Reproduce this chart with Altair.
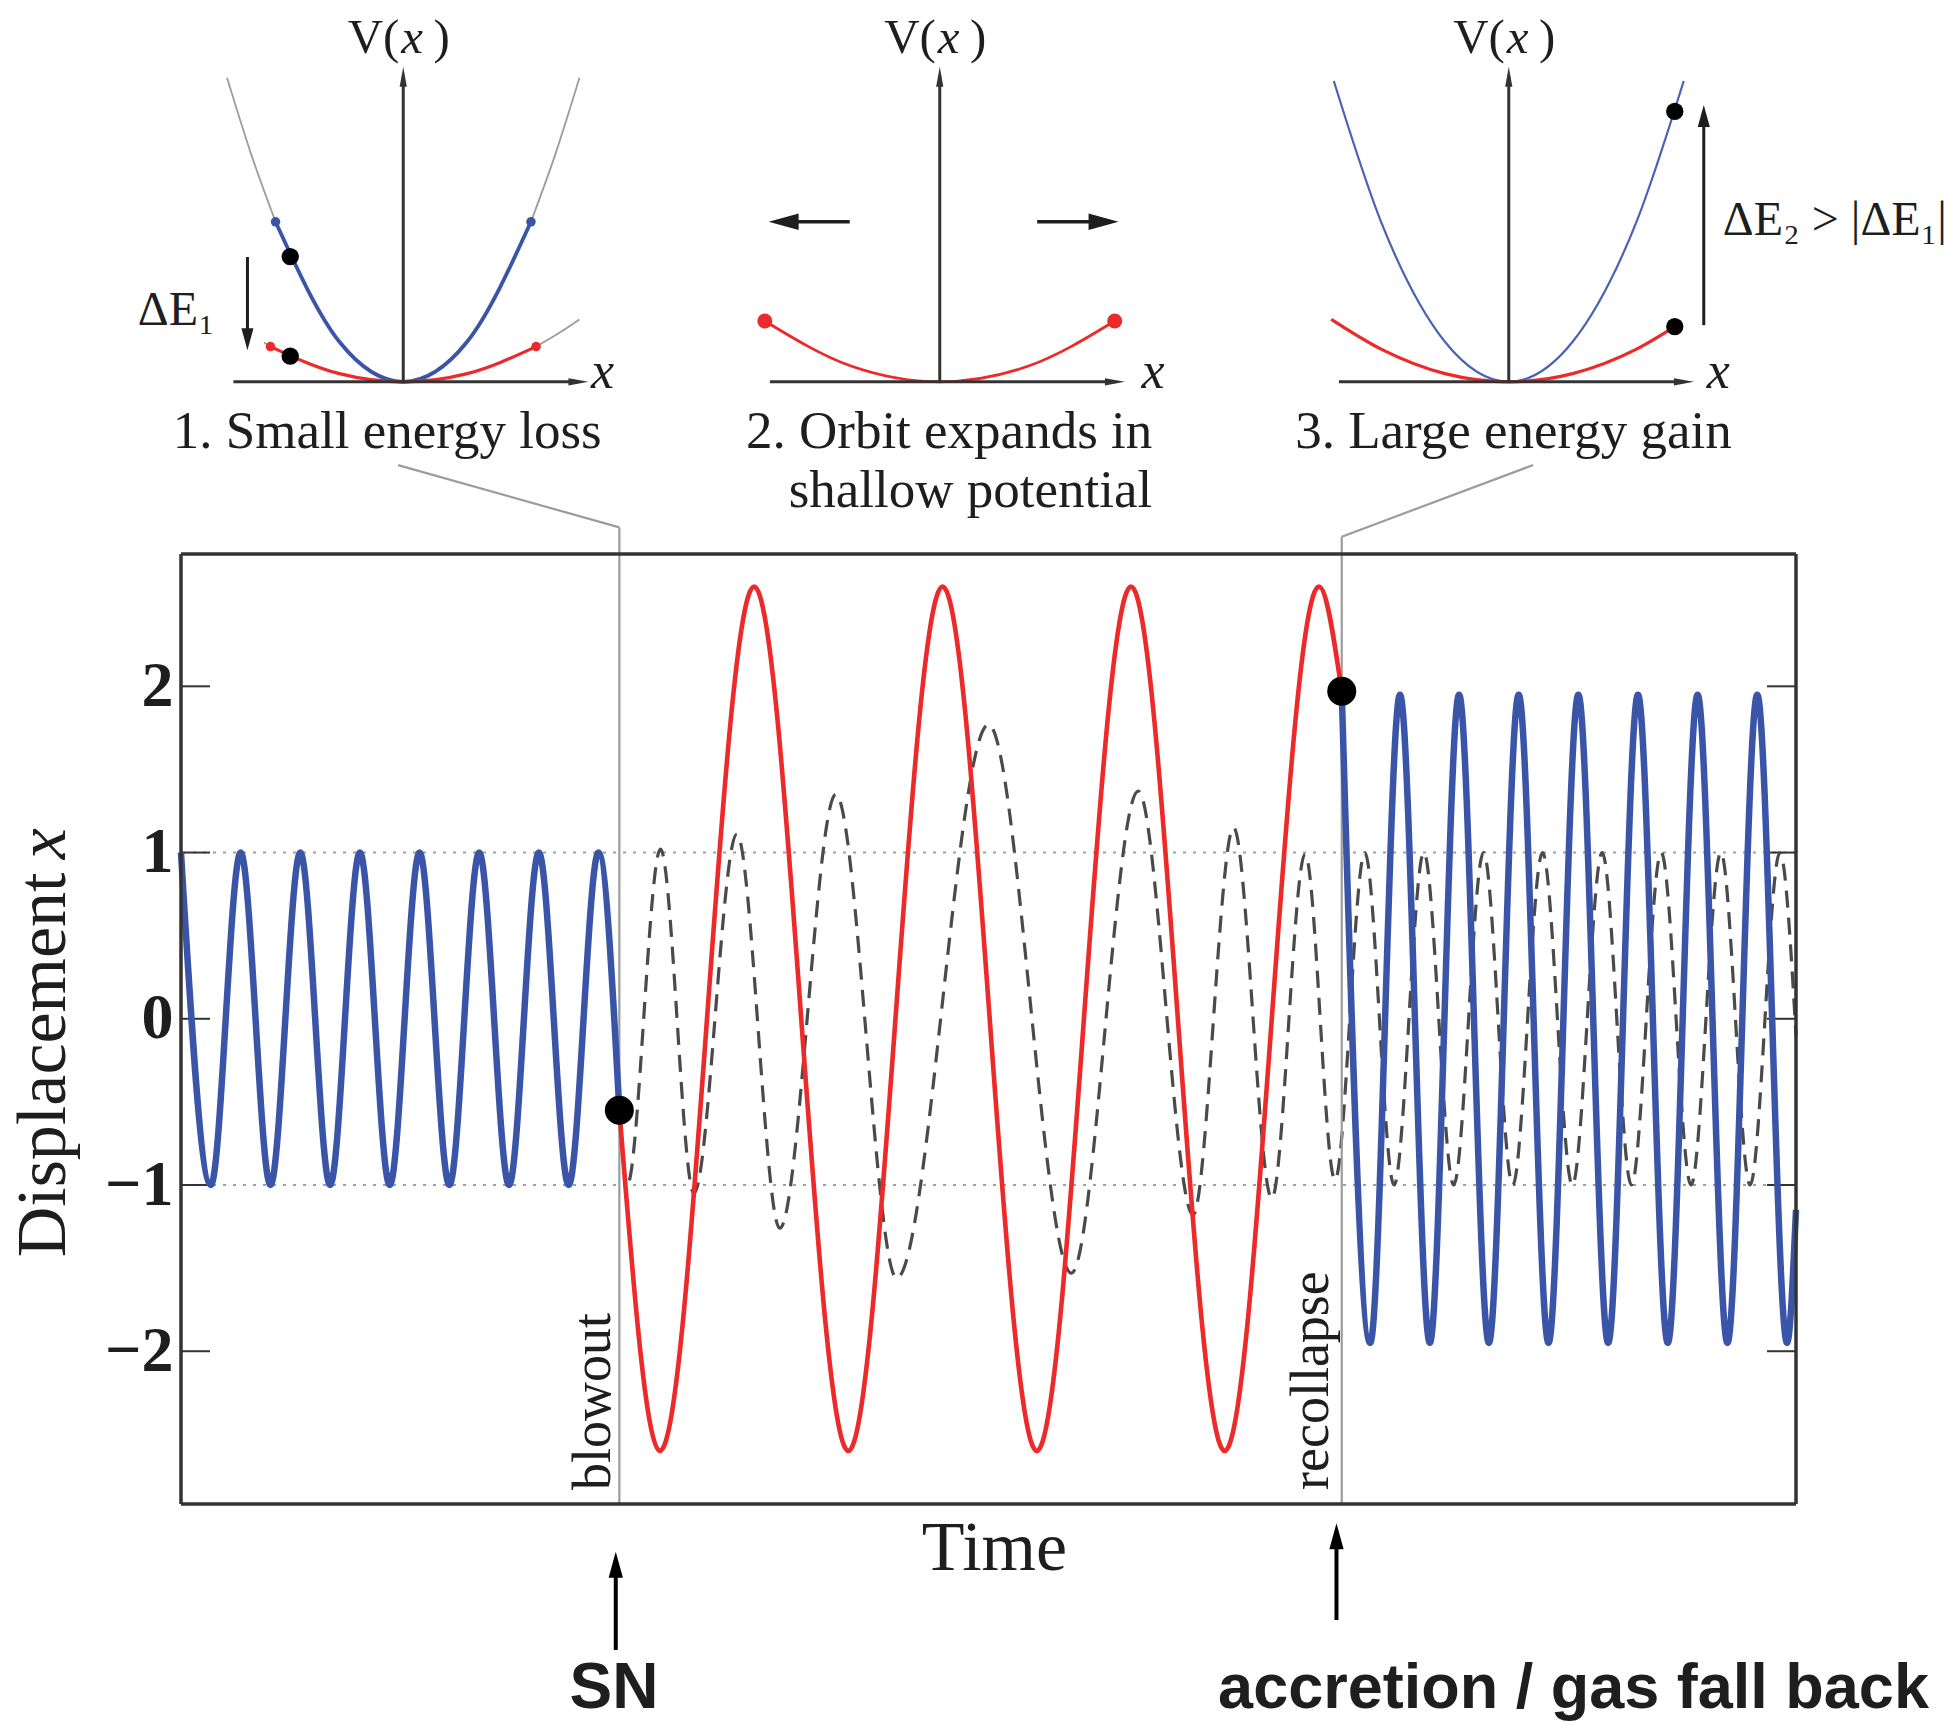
import altair as alt
import pandas as pd

SERIF = "Liberation Serif"
SANS = "Liberation Sans"
INK = "#1e1e1e"
AXIS_INK = "#333333"
BLUE = "#3a55a8"
RED = "#ec2a2a"
DASH_GREY = "#4a4a4a"
GUIDE_GREY = "#9c9c9c"

# ---------------------------------------------------------------------------
# Main panel: displacement against time (time in units of the initial period)
# ---------------------------------------------------------------------------
W, H = 1615, 950
T_DOMAIN = [0.0, 27.08]
X_DOMAIN = [-2.919, 2.796]
Y_TICKS = [-2, -1, 0, 1, 2]
PX_PER_T = W / (T_DOMAIN[1] - T_DOMAIN[0])
PX_PER_X = H / (X_DOMAIN[1] - X_DOMAIN[0])

T_BLOWOUT = 7.35
T_RECOLLAPSE = 19.463

# turning points of the orbit in the original potential
pre_t = [0.0, 0.5, 1.0, 1.5, 2.0, 2.5, 3.0, 3.5, 4.0, 4.5, 5.0, 5.5, 6.0, 6.5, 7.0, T_BLOWOUT]
pre_x = [1.0, -1.0, 1.0, -1.0, 1.0, -1.0, 1.0, -1.0, 1.0, -1.0, 1.0, -1.0, 1.0, -1.0, 1.0, -0.55]

# orbit in the shallow potential between blowout and recollapse
mid_t = [T_BLOWOUT, 8.03, 9.61, 11.19, 12.77, 14.35, 15.93, 17.50, 19.08, T_RECOLLAPSE]
mid_x = [-0.55, -2.6, 2.6, -2.6, 2.6, -2.6, 2.6, -2.6, 2.6, 1.97]

# orbit after the potential deepens again
post_t = [T_RECOLLAPSE, 19.94, 20.44, 20.94, 21.43, 21.93, 22.43, 22.93, 23.43,
          23.93, 24.43, 24.93, 25.43, 25.93, 26.43, 26.93, 27.08]
post_x = [1.97, -1.95, 1.95, -1.95, 1.95, -1.95, 1.95, -1.95, 1.95,
          -1.95, 1.95, -1.95, 1.95, -1.95, 1.95, -1.95, -1.15]

# comparison orbit (dashed)
cmp_t = [T_BLOWOUT, 7.48, 8.04, 8.60, 9.32, 10.04, 10.98, 12.00, 13.54, 14.93, 16.05,
         16.97, 17.65, 18.29, 18.85, 19.35, 19.85, 20.34, 20.84, 21.34, 21.84, 22.33,
         22.83, 23.33, 23.83, 24.32, 24.82, 25.32, 25.82, 26.31, 26.81, 27.08]
cmp_x = [-0.55, -1.0, 1.02, -1.05, 1.11, -1.26, 1.35, -1.56, 1.77, -1.53, 1.37,
         -1.18, 1.15, -1.08, 0.99, -0.97, 1.0, -1.0, 1.0, -1.0, 1.0, -1.0,
         1.0, -1.0, 1.0, -1.0, 1.0, -1.0, 1.0, -1.0, 1.0, -0.1]

event_t = [T_BLOWOUT, T_RECOLLAPSE]
event_x = [-0.55, 1.97]
event_names = ["blowout", "recollapse"]

# ---------------------------------------------------------------------------
# Potential sketches V(x); local units: x in orbit amplitudes, V in V_deep(1)
# ---------------------------------------------------------------------------
INSET_T0 = {1: 3.7267, 2: 12.7227, 3: 22.2637}
INSET_Y0 = 3.8319
SX, SY = 2.1413, 0.96241

# panel 1
p1_deep_x = [-1.0, -0.5, 0.0, 0.5, 1.0]
p1_deep_v = [1.0, 0.25, 0.0, 0.25, 1.0]
p1_deep_left_x = [-1.38, -1.19, -1.0]
p1_deep_left_v = [1.90, 1.42, 1.0]
p1_deep_right_x = [1.0, 1.19, 1.38]
p1_deep_right_v = [1.0, 1.42, 1.90]
p1_shallow_x = [-1.04, -0.5, 0.0, 0.5, 1.04]
p1_shallow_v = [0.22, 0.051, 0.0, 0.051, 0.22]
p1_shallow_left_x = [-1.09, -1.04]
p1_shallow_left_v = [0.245, 0.22]
p1_shallow_right_x = [1.04, 1.21, 1.38]
p1_shallow_right_v = [0.22, 0.30, 0.39]
p1_state_x = [-0.885, -0.885]
p1_state_v = [0.783, 0.16]

# panel 2
p2_shallow_x = [-1.37, -0.7, 0.0, 0.7, 1.37]
p2_shallow_v = [0.38, 0.10, 0.0, 0.10, 0.38]

# panel 3
p3_deep_x = [-1.37, -1.0, -0.5, 0.0, 0.5, 1.0, 1.37]
p3_deep_v = [1.88, 1.0, 0.25, 0.0, 0.25, 1.0, 1.88]
p3_shallow_x = [-1.39, -1.0, -0.5, 0.0, 0.5, 1.0, 1.30]
p3_shallow_v = [0.39, 0.204, 0.051, 0.0, 0.051, 0.204, 0.345]
p3_state_x = [1.30, 1.30]
p3_state_v = [1.69, 0.345]

panel_titles = {
    1: ["1. Small energy loss"],
    2: ["2. Orbit expands in", "shallow potential"],
    3: ["3. Large energy gain"],
}
# horizontal position of each sketch's "x" axis label (local units)
x_label_pos = {1: 1.47, 2: 1.58, 3: 1.55}


def place(panel, xs, vs):
    return ([INSET_T0[panel] + SX * x for x in xs],
            [INSET_Y0 + SY * v for v in vs])


def pt(panel, x, v):
    t, y = place(panel, [x], [v])
    return t[0], y[0]


# ---------------------------------------------------------------------------
# encodings
# ---------------------------------------------------------------------------
XS = alt.Scale(domain=T_DOMAIN, nice=False, zero=False)
YS = alt.Scale(domain=X_DOMAIN, nice=False, zero=False)
Y_AXIS = alt.Axis(values=Y_TICKS, title=None, ticks=False, domain=False, grid=False,
                  labelFont=SERIF, labelFontSize=64, labelFontWeight="bold",
                  labelColor=INK, labelPadding=8)


def ex():
    return alt.X("t:Q", scale=XS, axis=None)


def ey():
    return alt.Y("y:Q", scale=YS, axis=Y_AXIS)


def curve(df, color, width, dash=None, interp="monotone"):
    kw = dict(color=color, strokeWidth=width, interpolate=interp, strokeJoin="round")
    if dash:
        kw["strokeDash"] = dash
    return alt.Chart(df).mark_line(**kw).encode(x=ex(), y=ey(), detail="seg:N")


def segments(df):
    return alt.Chart(df).mark_rule(strokeCap="butt").encode(
        x=ex(), y=ey(), x2="t2:Q", y2="y2:Q",
        strokeWidth=alt.StrokeWidth("w:Q", scale=None),
        color=alt.Color("c:N", scale=None))


def heads(df):
    return alt.Chart(df).mark_point(filled=True, opacity=1, strokeWidth=0).encode(
        x=ex(), y=ey(),
        shape=alt.Shape("shape:N", scale=None),
        angle=alt.Angle("ang:Q", scale=None),
        size=alt.Size("size:Q", scale=None),
        color=alt.Color("c:N", scale=None))


def dots(df):
    return alt.Chart(df).mark_circle(opacity=1).encode(
        x=ex(), y=ey(),
        size=alt.Size("size:Q", scale=None),
        color=alt.Color("c:N", scale=None))


def texts(rows, size, font=SERIF, style="normal", weight="normal",
          align="center", baseline="alphabetic", angle=0, color=INK):
    df = pd.DataFrame(rows, columns=["t", "y", "label"])
    return alt.Chart(df).mark_text(
        font=font, fontSize=size, fontStyle=style, fontWeight=weight,
        align=align, baseline=baseline, angle=angle, color=color
    ).encode(x=ex(), y=ey(), text="label:N")


def series(ts, xs, seg):
    return pd.DataFrame({"t": ts, "y": xs, "seg": seg})


def panel_curve(panel, xs, vs, seg):
    t, y = place(panel, xs, vs)
    return pd.DataFrame({"t": t, "y": y, "seg": seg})


NARROW_HEAD = "M0,0L0.36,2L-0.36,2Z"
WIDE_HEAD = "M0,0L0.55,2L-0.55,2Z"

shaft_rows, head_rows = [], []


def arrow(tail, tip, head_len, shape, width, color):
    (t0, y0), (t1, y1) = tail, tip
    dt_px = (t1 - t0) * PX_PER_T
    dy_px = (y1 - y0) * PX_PER_X
    if abs(dt_px) > abs(dy_px):
        ang = 90 if dt_px > 0 else 270
        step = head_len * 0.5 / PX_PER_T
        end = (t1 - step if dt_px > 0 else t1 + step, y1)
    else:
        ang = 0 if dy_px > 0 else 180
        step = head_len * 0.5 / PX_PER_X
        end = (t1, y1 - step if dy_px > 0 else y1 + step)
    shaft_rows.append(dict(t=t0, y=y0, t2=end[0], y2=end[1], w=width, c=color))
    head_rows.append(dict(t=t1, y=y1, ang=ang, size=head_len ** 2, shape=shape, c=color))


# sketch axes
for p in (1, 2, 3):
    arrow(pt(p, 0, 0), pt(p, 0, 1.97), 20, NARROW_HEAD, 3, AXIS_INK)
    arrow(pt(p, -1.33, 0), pt(p, 1.45, 0), 20, NARROW_HEAD, 3, AXIS_INK)
# energy change and expansion arrows
arrow(pt(1, -1.22, 0.78), pt(1, -1.22, 0.198), 22, WIDE_HEAD, 3, INK)
arrow(pt(2, -0.705, 1.0), pt(2, -1.34, 1.0), 30, WIDE_HEAD, 3.5, INK)
arrow(pt(2, 0.763, 1.0), pt(2, 1.40, 1.0), 30, WIDE_HEAD, 3.5, INK)
arrow(pt(3, 1.527, 0.354), pt(3, 1.527, 1.73), 22, WIDE_HEAD, 3, INK)
# event markers under the time axis
arrow((7.29, -3.797), (7.29, -3.206), 26, WIDE_HEAD, 4, "#000000")
arrow((19.375, -3.617), (19.375, -3.035), 26, WIDE_HEAD, 4, "#000000")

# connectors from the sketches to the event lines
connector_rows = [
    dict(t=3.639, y=3.331, t2=T_BLOWOUT, y2=2.956, w=2.2, c=GUIDE_GREY),
    dict(t=T_BLOWOUT, y=2.956, t2=T_BLOWOUT, y2=X_DOMAIN[0], w=2.2, c=GUIDE_GREY),
    dict(t=22.671, y=3.331, t2=T_RECOLLAPSE, y2=2.90, w=2.2, c=GUIDE_GREY),
    dict(t=T_RECOLLAPSE, y=2.90, t2=T_RECOLLAPSE, y2=X_DOMAIN[0], w=2.2, c=GUIDE_GREY),
]

# inward ticks on both sides of the frame
tick_len = 29 / PX_PER_T
tick_rows = []
for v in Y_TICKS:
    tick_rows.append(dict(t=T_DOMAIN[0], y=v, t2=T_DOMAIN[0] + tick_len, y2=v, w=2, c=AXIS_INK))
    tick_rows.append(dict(t=T_DOMAIN[1] - tick_len, y=v, t2=T_DOMAIN[1], y2=v, w=2, c=AXIS_INK))

# plot frame
frame_rows = [
    dict(t=T_DOMAIN[0], y=X_DOMAIN[0], t2=T_DOMAIN[1], y2=X_DOMAIN[0], w=3.5, c=AXIS_INK),
    dict(t=T_DOMAIN[0], y=X_DOMAIN[1], t2=T_DOMAIN[1], y2=X_DOMAIN[1], w=3.5, c=AXIS_INK),
    dict(t=T_DOMAIN[0], y=X_DOMAIN[0], t2=T_DOMAIN[0], y2=X_DOMAIN[1], w=3.5, c=AXIS_INK),
    dict(t=T_DOMAIN[1], y=X_DOMAIN[0], t2=T_DOMAIN[1], y2=X_DOMAIN[1], w=3.5, c=AXIS_INK),
]

layers = []

# dotted unit-amplitude guides
layers.append(alt.Chart(pd.DataFrame({"y": [-1.0, 1.0]})).mark_rule(
    color="#a0a0a0", strokeWidth=2, strokeDash=[3, 7]).encode(y=ey()))
layers.append(segments(pd.DataFrame(tick_rows)))
layers.append(curve(series(cmp_t, cmp_x, "cmp"), DASH_GREY, 3.2, dash=[17, 10]))
layers.append(segments(pd.DataFrame(connector_rows)))
layers.append(curve(series(mid_t, mid_x, "mid"), RED, 4.6))
layers.append(curve(pd.concat([series(pre_t, pre_x, "pre"),
                               series(post_t, post_x, "post")]), BLUE, 6.5))
layers.append(segments(pd.DataFrame(frame_rows)))
layers.append(dots(pd.DataFrame({"t": event_t, "y": event_x,
                                 "size": [841, 841], "c": ["#000000", "#000000"]})))

# potential sketches
layers.append(curve(pd.concat([
    panel_curve(1, p1_deep_left_x, p1_deep_left_v, "a"),
    panel_curve(1, p1_deep_right_x, p1_deep_right_v, "b"),
    panel_curve(1, p1_shallow_left_x, p1_shallow_left_v, "c"),
    panel_curve(1, p1_shallow_right_x, p1_shallow_right_v, "d"),
]), GUIDE_GREY, 1.8))
layers.append(curve(panel_curve(1, p1_deep_x, p1_deep_v, "deep1"), BLUE, 3.8))
layers.append(curve(panel_curve(3, p3_deep_x, p3_deep_v, "deep3"), "#4862b4", 2.2))
layers.append(curve(pd.concat([
    panel_curve(1, p1_shallow_x, p1_shallow_v, "sh1"),
    panel_curve(3, p3_shallow_x, p3_shallow_v, "sh3"),
]), RED, 3.2))
layers.append(curve(panel_curve(2, p2_shallow_x, p2_shallow_v, "sh2"), RED, 2.8))
layers.append(segments(pd.DataFrame(shaft_rows)))
layers.append(heads(pd.DataFrame(head_rows)))

dot_rows = []
for x, v in [(p1_deep_x[0], p1_deep_v[0]), (p1_deep_x[-1], p1_deep_v[-1])]:
    t, y = pt(1, x, v)
    dot_rows.append(dict(t=t, y=y, size=90, c=BLUE))
for x, v in [(p1_shallow_x[0], p1_shallow_v[0]), (p1_shallow_x[-1], p1_shallow_v[-1])]:
    t, y = pt(1, x, v)
    dot_rows.append(dict(t=t, y=y, size=90, c=RED))
for x, v in [(p2_shallow_x[0], p2_shallow_v[0]), (p2_shallow_x[-1], p2_shallow_v[-1])]:
    t, y = pt(2, x, v)
    dot_rows.append(dict(t=t, y=y, size=225, c=RED))
for x, v in zip(p1_state_x, p1_state_v):
    t, y = pt(1, x, v)
    dot_rows.append(dict(t=t, y=y, size=300, c="#000000"))
for x, v in zip(p3_state_x, p3_state_v):
    t, y = pt(3, x, v)
    dot_rows.append(dict(t=t, y=y, size=300, c="#000000"))
layers.append(dots(pd.DataFrame(dot_rows)))

# sketch labels
vx_open, vx_var, vx_close = [], [], []
x_labels = []
for p in (1, 2, 3):
    vx_open.append((*pt(p, -0.03, 2.0525), "V("))
    vx_var.append((*pt(p, -0.015, 2.0525), "x"))
    vx_close.append((*pt(p, 0.364, 2.0525), ")"))
    x_labels.append((*pt(p, x_label_pos[p], -0.04), "x"))
layers.append(texts(vx_open, 49, align="right"))
layers.append(texts(vx_var, 49, style="italic", align="left"))
layers.append(texts(vx_close, 49, align="right"))
layers.append(texts(x_labels, 52, style="italic", align="left"))

layers.append(texts([(*pt(1, -0.125, -0.415), panel_titles[1][0]),
                     (*pt(3, 0.037, -0.415), panel_titles[3][0])], 53))
layers.append(texts([(*pt(2, 1.664, -0.415), panel_titles[2][0]),
                     (*pt(2, 1.664, -0.78), panel_titles[2][1])], 53, align="right"))
layers.append(texts([(*pt(1, -2.079, 0.354), "ΔE₁"),
                     (*pt(3, 1.676, 0.92), "ΔE₂ > |ΔE₁|")], 48, align="left"))

# main panel labels
layers.append(texts([(-1.949, 0.88, "Displacement")], 70, align="right", angle=270))
layers.append(texts([(-1.949, 0.96, "x")], 70, style="italic", align="left", angle=270))
layers.append(texts([(13.64, -3.316, "Time")], 70))
layers.append(texts([(7.194, -2.835, event_names[0]),
                     (19.234, -2.835, event_names[1])], 54, align="left", angle=270))
layers.append(texts([(7.26, -4.146, "SN")], 64, font=SANS, weight="bold"))
layers.append(texts([(17.39, -4.146, "accretion / gas fall back")], 63,
                    font=SANS, weight="bold", align="left"))

chart = alt.layer(*layers).properties(
    width=W, height=H,
    padding={"left": 181, "top": 554, "right": 164, "bottom": 221},
    autosize=alt.AutoSizeParams(type="none"),
).configure(background="white").configure_view(stroke=None)

chart.save("out.html", embed_options={"renderer": "svg", "actions": False})
